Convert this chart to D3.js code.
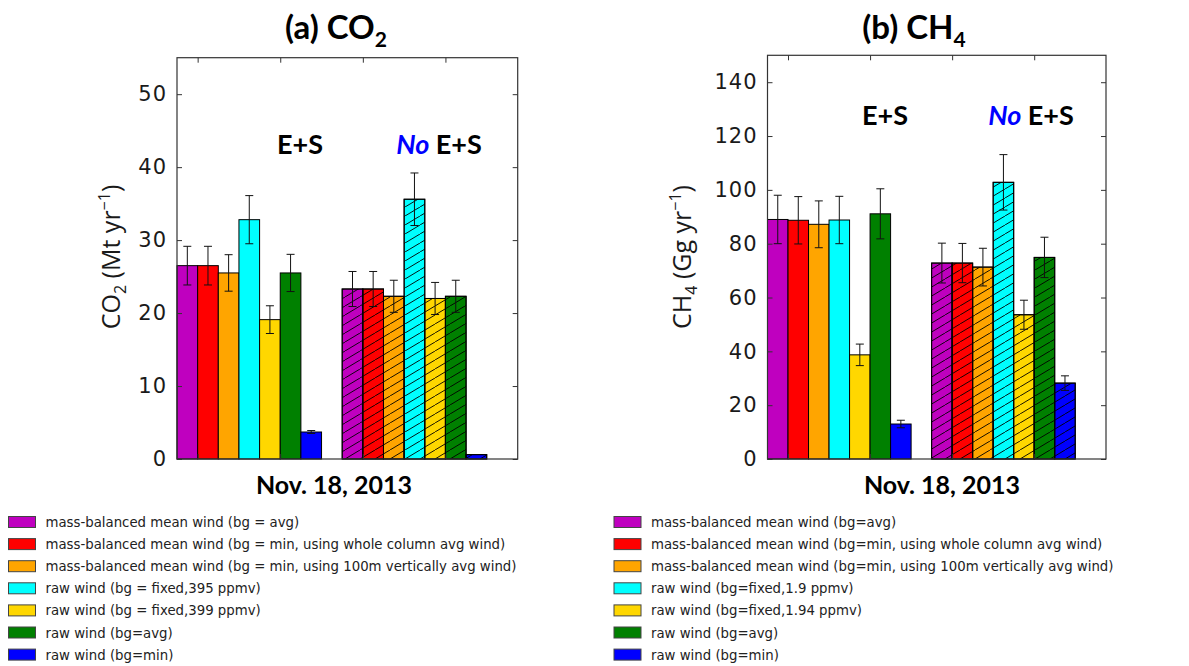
<!DOCTYPE html>
<html>
<head>
<meta charset="utf-8">
<script src="https://cdn.jsdelivr.net/npm/d3@7"></script>
<style>
  body { margin: 0; background: #fff; }
  svg { display: block; }
  .tick text { font-family: "DejaVu Sans", sans-serif; }
</style>
</head>
<body>
<svg id="chart" width="1189" height="666"></svg>
<script>
// series colours (matplotlib-ish)
const colours = ["#bf00bf", "#ff0000", "#ffa500", "#00ffff", "#ffd700", "#008000", "#0000ff"];

const co2Labels = [
  "mass-balanced mean wind (bg = avg)",
  "mass-balanced mean wind (bg = min, using whole column avg wind)",
  "mass-balanced mean wind (bg = min, using 100m vertically avg wind)",
  "raw wind (bg = fixed,395 ppmv)",
  "raw wind (bg = fixed,399 ppmv)",
  "raw wind (bg=avg)",
  "raw wind (bg=min)"
];
const ch4Labels = [
  "mass-balanced mean wind (bg=avg)",
  "mass-balanced mean wind (bg=min, using whole column avg wind)",
  "mass-balanced mean wind (bg=min, using 100m vertically avg wind)",
  "raw wind (bg=fixed,1.9 ppmv)",
  "raw wind (bg=fixed,1.94 ppmv)",
  "raw wind (bg=avg)",
  "raw wind (bg=min)"
];

// CO2, Mt/yr
const co2ES      = [26.5, 26.5, 25.5, 32.8, 19.1, 25.5, 3.7];
const co2ESerr   = [2.65, 2.65, 2.5, 3.3, 1.9, 2.55, 0.2];
const co2NoES    = [23.3, 23.3, 22.3, 35.6, 22.0, 22.3, 0.6];
const co2NoESerr = [2.4, 2.4, 2.2, 3.6, 2.2, 2.2, 0];
const co2Ticks   = [0, 10, 20, 30, 40, 50];

// CH4, Gg/yr
const ch4ES      = [89.0, 88.7, 87.2, 88.8, 38.7, 91.1, 13.0];
const ch4ESerr   = [9.0, 8.8, 8.7, 8.8, 4.0, 9.3, 1.4];
const ch4NoES    = [72.8, 72.8, 71.3, 102.8, 53.6, 74.9, 28.2];
const ch4NoESerr = [7.4, 7.3, 7.0, 10.3, 5.4, 7.5, 2.7];
const ch4Ticks   = [0, 20, 40, 60, 80, 100, 120, 140];

const xTicks = [1, 5, 9, 13];

const svg = d3.select("#chart");
svg.append("rect").attr("width", 1189).attr("height", 666).attr("fill", "#fff");

// hatch pattern for the "No E+S" bars
svg.append("defs").append("pattern")
    .attr("id", "hatch")
    .attr("patternUnits", "userSpaceOnUse")
    .attr("width", 15).attr("height", 9)
  .append("path")
    .attr("d", "M-15,9L0,0M0,9L15,0M15,9L30,0")
    .attr("stroke", "#000")
    .attr("stroke-width", 0.9);

function drawPanel(p) {
    const x = d3.scaleLinear().domain([0, 16.5]).range([p.left, p.right]);
    const y = d3.scaleLinear().domain([0, p.ymax]).range([459, p.top]);
    const g = svg.append("g");

    const groups = [
        {vals: p.es, errs: p.esErr, off: 0, hatch: false},
        {vals: p.noEs, errs: p.noEsErr, off: 8, hatch: true}
    ];

    groups.forEach(grp => {
        const bars = grp.vals.map((v, i) => ({v: v, e: grp.errs[i], i: i, x0: grp.off + i}));
        g.selectAll(null).data(bars).enter().append("rect")
            .attr("x", d => x(d.x0))
            .attr("y", d => y(d.v))
            .attr("width", d => x(d.x0 + 1) - x(d.x0))
            .attr("height", d => y(0) - y(d.v))
            .attr("fill", d => colours[d.i])
            .attr("stroke", "#000").attr("stroke-width", 1);
        if (grp.hatch) {
            g.selectAll(null).data(bars).enter().append("rect")
                .attr("x", d => x(d.x0))
                .attr("y", d => y(d.v))
                .attr("width", d => x(d.x0 + 1) - x(d.x0))
                .attr("height", d => y(0) - y(d.v))
                .attr("fill", "url(#hatch)")
                .attr("stroke", "#000").attr("stroke-width", 1);
        }
        // error bars
        const eb = g.selectAll(null).data(bars.filter(d => d.e > 0)).enter().append("g")
            .attr("stroke", "#111").attr("stroke-width", 1);
        eb.append("line")
            .attr("x1", d => x(d.x0 + 0.5)).attr("x2", d => x(d.x0 + 0.5))
            .attr("y1", d => y(d.v + d.e)).attr("y2", d => y(d.v - d.e));
        eb.append("line")
            .attr("x1", d => x(d.x0 + 0.5) - 4).attr("x2", d => x(d.x0 + 0.5) + 4)
            .attr("y1", d => y(d.v + d.e)).attr("y2", d => y(d.v + d.e));
        eb.append("line")
            .attr("x1", d => x(d.x0 + 0.5) - 4).attr("x2", d => x(d.x0 + 0.5) + 4)
            .attr("y1", d => y(d.v - d.e)).attr("y2", d => y(d.v - d.e));
    });

    // axes: ticks pointing inward, labels only on the left
    g.append("g").attr("transform", `translate(${p.left},0)`)
        .call(d3.axisLeft(y).tickValues(p.ticks).tickSize(-5).tickPadding(10))
        .call(a => a.select(".domain").remove())
        .call(a => a.selectAll("text").attr("font-size", 21).attr("fill", "#1a1a1a").attr("letter-spacing", 1));
    g.append("g").attr("transform", `translate(${p.right},0)`)
        .call(d3.axisRight(y).tickValues(p.ticks).tickSize(-5).tickFormat(""))
        .call(a => a.select(".domain").remove());
    g.append("g").attr("transform", `translate(0,${p.top})`)
        .call(d3.axisTop(x).tickValues(xTicks).tickSize(-5).tickFormat(""))
        .call(a => a.select(".domain").remove());
    g.append("g").attr("transform", "translate(0,459)")
        .call(d3.axisBottom(x).tickValues(xTicks).tickSize(-5).tickFormat(""))
        .call(a => a.select(".domain").remove());
    g.selectAll(".tick line").attr("stroke", "#333");

    g.append("rect")
        .attr("x", p.left).attr("y", p.top)
        .attr("width", p.right - p.left).attr("height", 459 - p.top)
        .attr("fill", "none").attr("stroke", "#333").attr("stroke-width", 1.2);

    // title
    const t = g.append("text").attr("x", p.titleX).attr("y", 39)
        .attr("text-anchor", "middle").attr("font-family", "Lato, sans-serif")
        .attr("font-weight", "bold").attr("font-size", 33).attr("fill", "#000");
    t.append("tspan").text(p.titlePre);
    t.append("tspan").text(p.gas);
    t.append("tspan").attr("font-size", 21).attr("dy", 8).text(p.sub);

    // E+S annotations
    g.append("text").attr("x", p.esX).attr("y", p.annY)
        .attr("text-anchor", "middle").attr("font-family", "Lato, sans-serif")
        .attr("font-weight", "bold").attr("font-size", 27).text("E+S");
    const n = g.append("text").attr("x", p.noEsX).attr("y", p.annY)
        .attr("text-anchor", "middle").attr("font-family", "Lato, sans-serif")
        .attr("font-weight", "bold").attr("font-size", 27);
    n.append("tspan").attr("fill", "#0000ff").attr("font-style", "italic").text("No");
    n.append("tspan").text(" E+S");

    // x label
    g.append("text").attr("x", p.xlabX).attr("y", 494)
        .attr("text-anchor", "middle").attr("font-family", "Lato, sans-serif")
        .attr("font-weight", "bold").attr("font-size", 25).text("Nov. 18, 2013");

    // y label
    const yl = g.append("text")
        .attr("transform", `translate(${p.ylabX},257) rotate(-90)`)
        .attr("text-anchor", "middle").attr("font-family", "'Open Sans', sans-serif")
        .attr("font-size", 25).attr("fill", "#1a1a1a");
    yl.append("tspan").text(p.gasPlain);
    yl.append("tspan").attr("font-size", 16).attr("dy", 6).text(p.sub);
    yl.append("tspan").attr("dy", -6).text(" (" + p.unit + " yr");
    yl.append("tspan").attr("font-size", 16).attr("dy", -10).text("\u22121");
    yl.append("tspan").attr("dy", 10).text(")");

    // legend
    const leg = g.append("g");
    const rows = leg.selectAll(null).data(p.labels).enter().append("g")
        .attr("transform", (d, i) => `translate(${p.legX},${522 + i * 22.1})`);
    rows.append("rect")
        .attr("x", 0).attr("y", -5.5).attr("width", 27).attr("height", 11)
        .attr("fill", (d, i) => colours[i]).attr("stroke", "#444").attr("stroke-width", 1);
    rows.append("text")
        .attr("x", 37).attr("y", 5)
        .attr("font-family", "'DejaVu Sans', sans-serif").attr("font-size", 13.3)
        .attr("fill", "#222").text(d => d);
}

drawPanel({
    left: 177, right: 517.7, top: 57.7, ymax: 55, ticks: co2Ticks,
    es: co2ES, esErr: co2ESerr, noEs: co2NoES, noEsErr: co2NoESerr,
    titleX: 336, titlePre: "(a) ", gas: "CO", gasPlain: "CO", sub: "2", unit: "Mt",
    esX: 300, noEsX: 439, annY: 154, ylabX: 120, xlabX: 334,
    labels: co2Labels, legX: 8.5
});

drawPanel({
    left: 767.5, right: 1106, top: 55.3, ymax: 150, ticks: ch4Ticks,
    es: ch4ES, esErr: ch4ESerr, noEs: ch4NoES, noEsErr: ch4NoESerr,
    titleX: 914, titlePre: "(b)  ", gas: "CH", gasPlain: "CH", sub: "4", unit: "Gg",
    esX: 885, noEsX: 1031, annY: 125, ylabX: 691, xlabX: 942,
    labels: ch4Labels, legX: 614
});
</script>
</body>
</html>
